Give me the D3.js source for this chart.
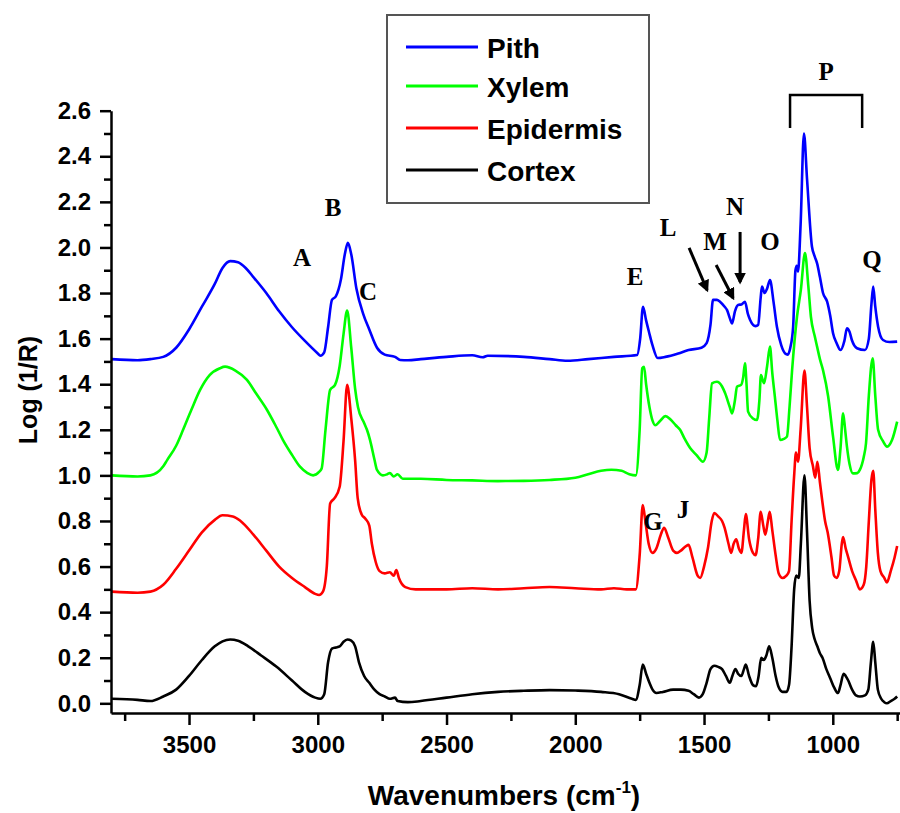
<!DOCTYPE html>
<html>
<head>
<meta charset="utf-8">
<script src="https://cdn.jsdelivr.net/npm/d3@7"></script>
<style>
  html, body { margin: 0; padding: 0; background: #fff; overflow: hidden; }
  svg { display: block; }
</style>
</head>
<body>
<div id="chart"></div>
<script>
// spectra, [wavenumber, log(1/R)]
const pith = [
  [3800,1.51],[3700,1.505],[3650,1.51],[3600,1.52],[3550,1.56],[3500,1.64],[3450,1.74],[3400,1.84],
  [3370,1.91],[3340,1.94],[3310,1.935],[3280,1.91],[3250,1.87],[3200,1.80],[3150,1.72],[3100,1.65],
  [3050,1.59],[3000,1.535],[2990,1.525],[2975,1.54],[2960,1.65],[2945,1.77],[2930,1.785],[2910,1.86],
  [2895,1.97],[2883,2.02],[2870,1.97],[2850,1.82],[2824,1.71],[2800,1.64],[2770,1.56],[2740,1.53],
  [2700,1.52],[2680,1.506],[2650,1.505],[2600,1.51],[2500,1.52],[2400,1.527],[2360,1.518],[2340,1.525],
  [2200,1.52],[2100,1.51],[2030,1.503],[1950,1.51],[1850,1.52],[1760,1.528],[1748,1.6],[1737,1.74],
  [1725,1.68],[1714,1.63],[1700,1.57],[1680,1.515],[1650,1.52],[1600,1.535],[1560,1.55],[1510,1.56],
  [1490,1.58],[1475,1.66],[1465,1.77],[1450,1.77],[1438,1.762],[1420,1.74],[1411,1.726],[1400,1.69],
  [1391,1.667],[1380,1.72],[1368,1.748],[1355,1.75],[1341,1.762],[1330,1.71],[1321,1.682],[1300,1.655],
  [1290,1.66],[1280,1.78],[1275,1.828],[1265,1.80],[1255,1.82],[1244,1.857],[1230,1.76],[1217,1.652],
  [1200,1.57],[1185,1.535],[1175,1.53],[1165,1.56],[1154,1.652],[1145,1.9],[1140,1.92],[1135,1.894],
  [1125,2.1],[1112,2.50],[1100,2.3],[1081,2.004],[1070,1.96],[1061,1.93],[1050,1.87],[1038,1.80],
  [1022,1.762],[1010,1.70],[999,1.624],[985,1.58],[970,1.55],[955,1.59],[945,1.645],[935,1.63],
  [926,1.594],[906,1.558],[875,1.55],[860,1.60],[850,1.75],[843,1.828],[835,1.74],[824,1.652],
  [805,1.594],[780,1.585],[750,1.587]
];
const xylem = [
  [3800,1.0],[3700,0.995],[3650,1.0],[3600,1.04],[3585,1.067],[3550,1.13],[3523,1.20],[3490,1.29],
  [3457,1.375],[3420,1.44],[3380,1.47],[3360,1.477],[3320,1.46],[3275,1.419],[3240,1.36],[3197,1.287],
  [3160,1.21],[3135,1.155],[3100,1.09],[3069,1.038],[3040,1.01],[3018,1.0],[2995,1.015],[2985,1.03],
  [2970,1.2],[2952,1.375],[2933,1.397],[2915,1.48],[2900,1.62],[2886,1.723],[2870,1.56],[2855,1.38],
  [2844,1.30],[2820,1.23],[2809,1.20],[2797,1.155],[2780,1.07],[2770,1.024],[2747,1.0],[2730,1.005],
  [2720,1.01],[2705,0.995],[2690,1.005],[2670,0.985],[2600,0.985],[2500,0.98],[2400,0.978],[2300,0.975],
  [2200,0.976],[2100,0.98],[2000,0.99],[1950,1.005],[1900,1.02],[1860,1.025],[1820,1.02],[1790,1.005],
  [1765,1.0],[1750,1.2],[1740,1.47],[1733,1.476],[1725,1.40],[1712,1.30],[1700,1.24],[1690,1.22],
  [1670,1.24],[1650,1.26],[1630,1.245],[1610,1.22],[1593,1.20],[1575,1.16],[1554,1.12],[1530,1.09],
  [1504,1.06],[1490,1.10],[1480,1.25],[1469,1.404],[1450,1.411],[1430,1.39],[1418,1.36],[1400,1.30],
  [1391,1.272],[1380,1.33],[1372,1.389],[1356,1.397],[1348,1.43],[1341,1.492],[1335,1.40],[1329,1.28],
  [1310,1.25],[1294,1.243],[1285,1.33],[1279,1.44],[1267,1.404],[1255,1.48],[1244,1.565],[1235,1.45],
  [1225,1.346],[1215,1.24],[1205,1.155],[1190,1.16],[1178,1.17],[1168,1.30],[1158,1.462],[1139,1.696],
  [1124,1.814],[1108,1.975],[1095,1.83],[1085,1.696],[1070,1.61],[1061,1.565],[1050,1.51],[1038,1.462],
  [1018,1.346],[999,1.17],[980,1.024],[970,1.12],[960,1.272],[952,1.20],[945,1.126],[935,1.05],
  [922,1.009],[905,1.01],[895,1.024],[880,1.08],[871,1.141],[860,1.35],[845,1.514],[835,1.35],
  [824,1.20],[805,1.15],[789,1.126],[770,1.155],[750,1.236]
];
const epidermis = [
  [3800,0.49],[3700,0.485],[3650,0.49],[3600,0.52],[3550,0.59],[3500,0.67],[3450,0.75],[3400,0.805],
  [3370,0.825],[3330,0.82],[3300,0.80],[3250,0.74],[3200,0.67],[3150,0.60],[3100,0.55],[3050,0.51],
  [3010,0.48],[2995,0.475],[2980,0.49],[2965,0.60],[2952,0.877],[2935,0.90],[2915,0.95],[2900,1.15],
  [2886,1.397],[2870,1.25],[2855,1.067],[2845,0.90],[2830,0.83],[2815,0.81],[2800,0.78],[2790,0.70],
  [2775,0.62],[2760,0.58],[2740,0.57],[2720,0.575],[2705,0.56],[2695,0.585],[2685,0.55],[2660,0.51],
  [2620,0.50],[2500,0.50],[2400,0.505],[2300,0.50],[2200,0.505],[2100,0.51],[2000,0.505],[1900,0.50],
  [1850,0.505],[1800,0.50],[1765,0.50],[1750,0.65],[1738,0.87],[1728,0.80],[1715,0.70],[1700,0.66],
  [1685,0.68],[1668,0.74],[1655,0.77],[1640,0.73],[1620,0.67],[1605,0.66],[1590,0.67],[1570,0.69],
  [1560,0.695],[1545,0.64],[1525,0.56],[1515,0.55],[1500,0.60],[1485,0.68],[1470,0.80],[1460,0.835],
  [1445,0.82],[1430,0.80],[1420,0.77],[1405,0.70],[1395,0.66],[1385,0.70],[1375,0.72],[1365,0.68],
  [1355,0.66],[1345,0.76],[1338,0.83],[1325,0.72],[1310,0.66],[1300,0.65],[1290,0.72],[1280,0.84],
  [1270,0.78],[1262,0.74],[1252,0.80],[1245,0.84],[1235,0.76],[1222,0.65],[1210,0.57],[1195,0.55],
  [1180,0.56],[1170,0.58],[1160,0.80],[1150,1.0],[1143,1.10],[1135,1.06],[1125,1.20],[1110,1.46],
  [1100,1.30],[1090,1.12],[1077,1.04],[1068,0.99],[1060,1.06],[1050,0.97],[1040,0.88],[1030,0.80],
  [1020,0.75],[1005,0.64],[995,0.56],[985,0.55],[975,0.58],[965,0.70],[960,0.73],[950,0.68],
  [940,0.64],[925,0.58],[910,0.54],[895,0.50],[880,0.52],[870,0.60],[860,0.80],[850,0.98],
  [843,1.02],[835,0.85],[825,0.66],[815,0.58],[800,0.55],[790,0.53],[775,0.58],[760,0.64],[750,0.69]
];
const cortex = [
  [3800,0.02],[3700,0.015],[3650,0.01],[3600,0.03],[3550,0.06],[3500,0.12],[3450,0.19],[3400,0.25],
  [3370,0.272],[3340,0.28],[3310,0.275],[3270,0.25],[3220,0.21],[3160,0.16],[3100,0.10],[3050,0.05],
  [3010,0.025],[2990,0.02],[2975,0.04],[2960,0.18],[2945,0.24],[2930,0.245],[2915,0.25],[2900,0.27],
  [2885,0.28],[2870,0.275],[2855,0.25],[2840,0.18],[2820,0.12],[2800,0.09],[2780,0.06],[2760,0.04],
  [2740,0.03],[2720,0.02],[2700,0.025],[2690,0.01],[2650,0.005],[2600,0.01],[2500,0.025],[2400,0.04],
  [2300,0.05],[2200,0.055],[2100,0.058],[2000,0.056],[1900,0.05],[1830,0.04],[1780,0.02],[1765,0.015],
  [1750,0.08],[1738,0.17],[1725,0.13],[1712,0.09],[1700,0.06],[1685,0.045],[1660,0.05],[1620,0.06],
  [1590,0.06],[1560,0.055],[1540,0.04],[1520,0.025],[1505,0.04],[1490,0.09],[1475,0.15],[1460,0.165],
  [1445,0.16],[1430,0.15],[1415,0.12],[1400,0.09],[1390,0.12],[1378,0.15],[1368,0.13],[1355,0.12],
  [1345,0.15],[1338,0.17],[1325,0.12],[1310,0.08],[1298,0.075],[1288,0.12],[1278,0.20],[1268,0.19],
  [1258,0.21],[1247,0.25],[1235,0.20],[1222,0.12],[1210,0.07],[1195,0.05],[1180,0.05],[1170,0.08],
  [1160,0.25],[1150,0.50],[1142,0.56],[1132,0.55],[1124,0.70],[1110,1.0],[1100,0.75],[1090,0.45],
  [1080,0.33],[1070,0.28],[1060,0.25],[1050,0.22],[1040,0.20],[1025,0.15],[1010,0.11],[995,0.07],
  [980,0.045],[970,0.08],[958,0.13],[950,0.12],[940,0.10],[925,0.06],[910,0.035],[895,0.03],
  [875,0.035],[862,0.06],[852,0.18],[843,0.27],[835,0.18],[825,0.06],[812,0.02],[800,0.005],
  [790,0.0],[775,0.01],[760,0.02],[750,0.03]
];

const seriesNames = ["Pith", "Xylem", "Epidermis", "Cortex"];
const seriesColors = ["#0000ff", "#00ff00", "#ff0000", "#000000"];

const xTicks = [3500, 3000, 2500, 2000, 1500, 1000];
const xMinorTicks = [3750, 3250, 2750, 2250, 1750, 1250, 750];
const yTicks = [0.0, 0.2, 0.4, 0.6, 0.8, 1.0, 1.2, 1.4, 1.6, 1.8, 2.0, 2.2, 2.4, 2.6];
const yMinorTicks = [0.1, 0.3, 0.5, 0.7, 0.9, 1.1, 1.3, 1.5, 1.7, 1.9, 2.1, 2.3, 2.5];

// peak labels [text, wavenumber, value at baseline]
const peakLabels = [
  ["A", 3061, 1.919], ["B", 2941, 2.138], ["C", 2805, 1.769], ["E", 1768, 1.835],
  ["G", 1698, 0.760], ["J", 1582, 0.813], ["L", 1640, 2.050], ["M", 1457, 1.989],
  ["N", 1380, 2.142], ["O", 1244, 1.989], ["Q", 848, 1.910], ["P", 1026, 2.735]
];

// arrows [from wavenumber, from value, to wavenumber, to value]
const arrows = [
  [1558, 1.998, 1488, 1.813],
  [1453, 1.923, 1387, 1.778],
  [1360, 2.068, 1360, 1.848]
];

const width = 900, height = 813;
const svg = d3.select("#chart").append("svg")
  .attr("width", width)
  .attr("height", height)
  .style("font-family", "'Liberation Sans', Arial, sans-serif");

svg.append("rect").attr("width", width).attr("height", height).attr("fill", "#fff");

const x = d3.scaleLinear().domain([3803, 739]).range([111, 900]);
const y = d3.scaleLinear().domain([-0.0425, 2.6]).range([713, 110.7]);

// curves
const line = d3.line()
  .x(d => x(d[0]))
  .y(d => y(d[1]))
  .curve(d3.curveMonotoneX);

[pith, xylem, epidermis, cortex].forEach((data, i) => {
  svg.append("path")
    .datum(data)
    .attr("fill", "none")
    .attr("stroke", seriesColors[i])
    .attr("stroke-width", 2.6)
    .attr("stroke-linejoin", "round")
    .attr("d", line);
});

// axes
const xAxis = svg.append("g")
  .attr("transform", "translate(0,713)")
  .call(d3.axisBottom(x).tickValues(xTicks).tickSize(12).tickSizeOuter(0).tickPadding(11).tickFormat(d3.format("d")));
svg.append("g")
  .attr("transform", "translate(0,713)")
  .call(d3.axisBottom(x).tickValues(xMinorTicks).tickSize(8).tickSizeOuter(0).tickFormat(""))
  .select(".domain").remove();

const yAxis = svg.append("g")
  .attr("transform", "translate(111,0)")
  .call(d3.axisLeft(y).tickValues(yTicks).tickSize(11).tickSizeOuter(0).tickPadding(9).tickFormat(d3.format(".1f")));
svg.append("g")
  .attr("transform", "translate(111,0)")
  .call(d3.axisLeft(y).tickValues(yMinorTicks).tickSize(7).tickSizeOuter(0).tickFormat(""))
  .select(".domain").remove();

svg.selectAll(".domain, .tick line")
  .attr("stroke", "#000")
  .attr("stroke-width", 2.5);

xAxis.selectAll("text")
  .attr("font-size", 24)
  .attr("font-weight", "bold")
  .attr("font-family", "'Liberation Sans', Arial, sans-serif")
  .attr("fill", "#000");
yAxis.selectAll("text")
  .attr("font-size", 24)
  .attr("font-weight", "bold")
  .attr("font-family", "'Liberation Sans', Arial, sans-serif")
  .attr("fill", "#000");

// axis titles
const xTitle = svg.append("text")
  .attr("x", 504)
  .attr("y", 805)
  .attr("text-anchor", "middle")
  .attr("font-size", 28)
  .attr("font-weight", "bold");
xTitle.append("tspan").text("Wavenumbers (cm");
xTitle.append("tspan").attr("dy", -12).attr("font-size", 17).text("-1");
xTitle.append("tspan").attr("dy", 12).text(")");

svg.append("text")
  .attr("transform", "translate(37,390) rotate(-90)")
  .attr("text-anchor", "middle")
  .attr("font-size", 25)
  .attr("font-weight", "bold")
  .text("Log (1/R)");

// legend
const legend = svg.append("g");
legend.append("rect")
  .attr("x", 387).attr("y", 15)
  .attr("width", 262).attr("height", 188)
  .attr("fill", "#fff")
  .attr("stroke", "#555")
  .attr("stroke-width", 2);

const legendY = [47, 86, 128, 170];
seriesNames.forEach((name, i) => {
  legend.append("line")
    .attr("x1", 406).attr("x2", 478)
    .attr("y1", legendY[i]).attr("y2", legendY[i])
    .attr("stroke", seriesColors[i])
    .attr("stroke-width", 3);
  legend.append("text")
    .attr("x", 487)
    .attr("y", legendY[i] + 11)
    .attr("font-size", 28)
    .attr("font-weight", "bold")
    .text(name);
});

// peak letters
svg.append("g")
  .selectAll("text")
  .data(peakLabels)
  .join("text")
  .attr("x", d => x(d[1]))
  .attr("y", d => y(d[2]))
  .attr("text-anchor", "middle")
  .attr("font-family", "'Liberation Serif', 'Times New Roman', serif")
  .attr("font-weight", "bold")
  .attr("font-size", 25)
  .text(d => d[0]);

// P bracket over the 1166-886 region
svg.append("path")
  .attr("d", `M${x(1166)},${y(2.524)} V${y(2.669)} H${x(886)} V${y(2.524)}`)
  .attr("fill", "none")
  .attr("stroke", "#000")
  .attr("stroke-width", 2.5);

// arrows for L, M, N
svg.append("defs").append("marker")
  .attr("id", "head")
  .attr("viewBox", "0 0 10 10")
  .attr("refX", 8).attr("refY", 5)
  .attr("markerWidth", 4).attr("markerHeight", 4)
  .attr("orient", "auto")
  .append("path")
  .attr("d", "M0,0 L10,5 L0,10 Z")
  .attr("fill", "#000");

svg.append("g")
  .selectAll("line")
  .data(arrows)
  .join("line")
  .attr("x1", d => x(d[0])).attr("y1", d => y(d[1]))
  .attr("x2", d => x(d[2])).attr("y2", d => y(d[3]))
  .attr("stroke", "#000")
  .attr("stroke-width", 3)
  .attr("marker-end", "url(#head)");
</script>
</body>
</html>
